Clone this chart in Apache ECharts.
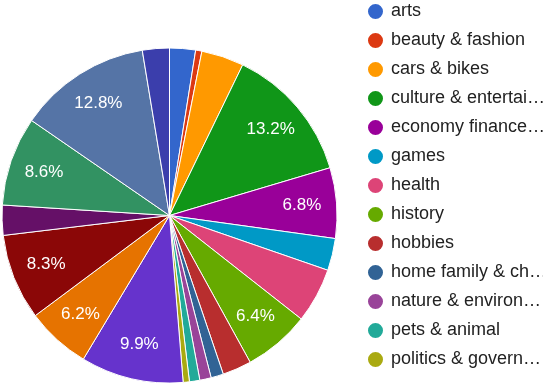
<!DOCTYPE html>
<html>
<head>
<meta charset="utf-8">
<script src="https://cdn.jsdelivr.net/npm/echarts@6/dist/echarts.min.js"></script>
<style>
html,body{margin:0;padding:0;background:#fff;}
#chart{width:543px;height:385px;}
</style>
</head>
<body>
<div id="chart"></div>
<script>
const categories = [
  "arts", "beauty & fashion", "cars & bikes", "culture & entertainment",
  "economy finance & business", "games", "health", "history", "hobbies",
  "home family & children", "nature & environment", "pets & animal",
  "politics & government", "science & education", "shopping & services",
  "society & people", "spirituality & religion", "sports",
  "technology & internet", "travel & tourism"
];
const values = [2.5, 0.6, 4.1, 13.2, 6.8, 3.1, 5.3, 6.4, 2.8, 1.2, 1.1, 1.0, 0.6, 9.9, 6.2, 8.3, 2.9, 8.6, 12.8, 2.6];
const colors = [
  "#3366cc", "#dc3912", "#ff9900", "#109618", "#990099", "#0099c6", "#dd4477",
  "#66aa00", "#b82e2e", "#316395", "#994499", "#22aa99", "#aaaa11", "#6633cc",
  "#e67300", "#8b0707", "#651067", "#329262", "#5574a6", "#3b3eac"
];
const legendNames = categories.slice(0, 13);
const legendLabels = [
  "arts", "beauty & fashion", "cars & bikes", "culture & entertai…",
  "economy finance…", "games", "health", "history", "hobbies",
  "home family & ch…", "nature & environ…", "pets & animal", "politics & govern…"
];
const labelThreshold = 6;

const data = categories.map((n, i) => ({ name: n, value: values[i], itemStyle: { color: colors[i] } }));
const overlayData = categories.map((n, i) => ({ name: n, value: values[i] }));

const chart = echarts.init(document.getElementById('chart'), null, { renderer: 'canvas' });
chart.setOption({
  backgroundColor: '#ffffff',
  animation: false,
  legend: {
    orient: 'vertical',
    left: 361,
    top: -3,
    icon: 'circle',
    itemWidth: 17,
    itemHeight: 17,
    itemGap: 10,
    data: legendNames,
    selectedMode: false,
    formatter: function (name) { return legendLabels[legendNames.indexOf(name)]; },
    textStyle: { fontSize: 18, color: '#222', fontFamily: 'Liberation Sans, Arial, sans-serif', padding: [0, 0, 0, 2] }
  },
  series: [
    {
      type: 'pie',
      center: [169.5, 215.5],
      radius: [0, 167.5],
      startAngle: 90,
      clockwise: true,
      avoidLabelOverlap: false,
      silent: true,
      data: data,
      itemStyle: { borderColor: '#ffffff', borderWidth: 1 },
      label: { show: false },
      labelLine: { show: false }
    },
    {
      type: 'pie',
      center: [169.5, 215.5],
      radius: [92, 167.5],
      startAngle: 90,
      clockwise: true,
      avoidLabelOverlap: false,
      silent: true,
      data: overlayData,
      itemStyle: { color: 'rgba(0,0,0,0)', borderWidth: 0 },
      label: {
        show: true,
        position: 'inside',
        color: '#ffffff',
        fontSize: 17,
        fontFamily: 'Liberation Sans, Arial, sans-serif',
        textBorderWidth: 0,
        formatter: function (p) { return p.value >= labelThreshold ? p.value.toFixed(1) + '%' : ''; }
      },
      labelLine: { show: false }
    }
  ]
});
</script>
</body>
</html>
